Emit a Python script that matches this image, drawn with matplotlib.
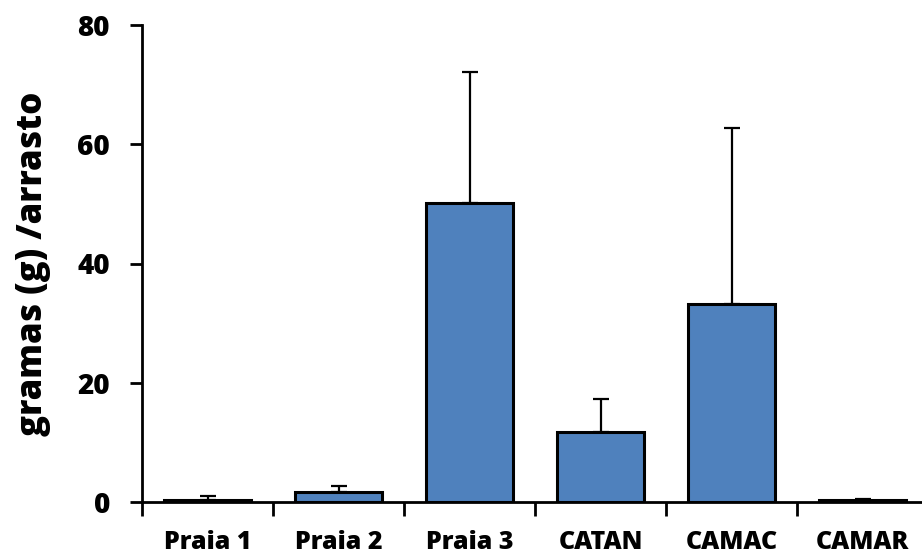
import matplotlib
matplotlib.use("Agg")
import matplotlib.pyplot as plt
import numpy as np

categories = ["Praia 1", "Praia 2", "Praia 3", "CATAN", "CAMAC", "CAMAR"]
means = [0.3, 1.7, 50.1, 11.7, 33.2, 0.3]
errors = [0.7, 1.0, 22.1, 5.5, 29.5, 0.2]

plt.rcParams["font.family"] = ["Open Sans", "DejaVu Sans"]
plt.rcParams["font.weight"] = "heavy"

fig = plt.figure(figsize=(9.22, 5.59), dpi=100)
ax = fig.add_axes([142 / 922, 1 - 502 / 559, 786 / 922, 477 / 559])

x = np.arange(len(categories)) + 0.5
ax.bar(x, means, width=0.667, color="#4f81bd", edgecolor="black", linewidth=2.2, zorder=2)
ax.errorbar(x, means, yerr=[np.zeros(len(errors)), errors], fmt="none",
            ecolor="black", elinewidth=1.6, capsize=6, capthick=1.6, zorder=1)

ax.set_xlim(0, len(categories))
ax.set_ylim(0, 80)
ax.set_yticks([0, 20, 40, 60, 80])
ax.set_xticks(np.arange(len(categories) + 1))
ax.set_xticklabels([])
ax.set_xticks(x, minor=True)
ax.set_xticklabels(categories, minor=True, fontsize=18, fontweight="heavy")
ax.tick_params(axis="x", which="minor", length=0, pad=20)
ax.tick_params(axis="x", which="major", direction="out", length=10, width=2)
ax.tick_params(axis="y", direction="out", length=9, width=2, labelsize=20, pad=14)
for lbl in ax.get_yticklabels():
    lbl.set_fontweight("heavy")

for side in ["top", "right"]:
    ax.spines[side].set_visible(False)
for side in ["left", "bottom"]:
    ax.spines[side].set_linewidth(2)

ax.set_ylabel("gramas (g) /arrasto", fontsize=25, fontweight="heavy", labelpad=19)

fig.savefig("out.png", dpi=100)
